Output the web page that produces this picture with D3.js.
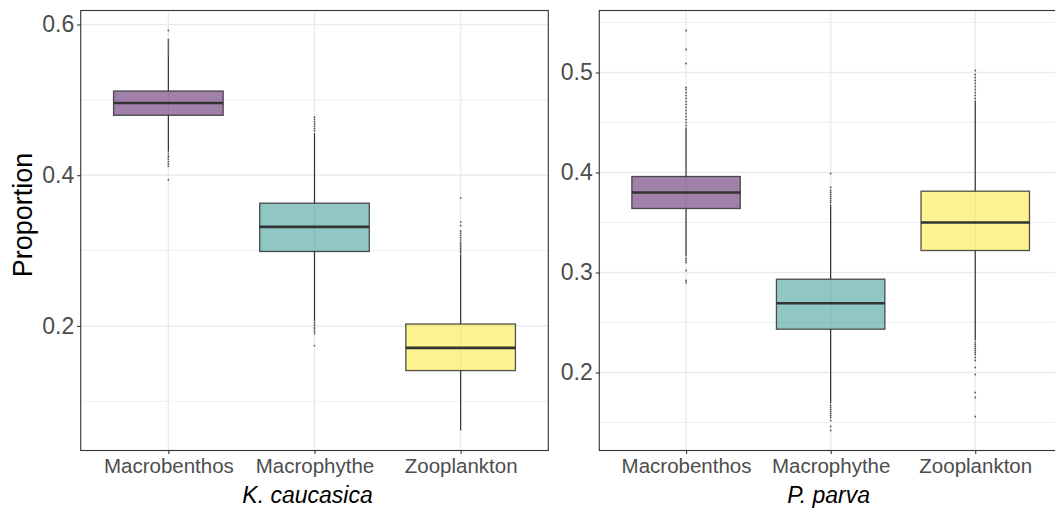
<!DOCTYPE html>
<html>
<head>
<meta charset="utf-8">
<script src="https://cdn.jsdelivr.net/npm/d3@7"></script>
<style>
  body { margin: 0; background: #fff; }
  svg { display: block; font-family: "Liberation Sans", Arial, Helvetica, sans-serif; }
</style>
</head>
<body>
<svg id="chart" width="1055" height="509"></svg>
<script>
// categories and box statistics
const categories = ["Macrobenthos", "Macrophythe", "Zooplankton"];
const fills = ["#440154", "#21908C", "#FDE725"];

// K. caucasica
const kcQ1 = [0.4795, 0.2988, 0.1408];
const kcMedian = [0.4958, 0.3315, 0.1709];
const kcQ3 = [0.5117, 0.3629, 0.2026];
const kcLow = [0.431, 0.206, 0.0613];
const kcHigh = [0.559, 0.456, 0.295];
const kcOutliers = [
  [0.560, 0.562, 0.564, 0.566, 0.568, 0.570, 0.572, 0.574, 0.576, 0.578, 0.580, 0.592,
   0.429, 0.426, 0.424, 0.421, 0.418, 0.415, 0.412, 0.394],
  [0.459, 0.462, 0.465, 0.468, 0.471, 0.474, 0.477,
   0.204, 0.201, 0.198, 0.196, 0.193, 0.190, 0.174],
  [0.297, 0.299, 0.301, 0.303, 0.305, 0.307, 0.309, 0.311, 0.314, 0.317, 0.320,
   0.323, 0.326, 0.333, 0.338, 0.370]
];

// P. parva
const ppQ1 = [0.364, 0.2433, 0.322];
const ppMedian = [0.380, 0.2693, 0.350];
const ppQ3 = [0.396, 0.2933, 0.3813];
const ppLow = [0.316, 0.169, 0.232];
const ppHigh = [0.445, 0.368, 0.472];
const ppOutliers = [
  [0.447, 0.450, 0.453, 0.456, 0.459, 0.462, 0.465, 0.468, 0.471, 0.474, 0.477,
   0.480, 0.483, 0.485, 0.509, 0.523, 0.542, 0.314, 0.312, 0.310, 0.302, 0.292, 0.290],
  [0.370, 0.372, 0.374, 0.376, 0.378, 0.380, 0.382, 0.385, 0.399,
   0.167, 0.165, 0.163, 0.161, 0.159, 0.157, 0.155, 0.152, 0.146, 0.142],
  [0.474, 0.477, 0.480, 0.483, 0.486, 0.489, 0.492, 0.495, 0.498, 0.502,
   0.230, 0.228, 0.226, 0.224, 0.222, 0.220, 0.218, 0.215, 0.212, 0.205, 0.198,
   0.180, 0.175, 0.156]
];

const kcTicks = [0.2, 0.4, 0.6];
const ppTicks = [0.2, 0.3, 0.4, 0.5];

const svg = d3.select("#chart");

function drawPanel(opt) {
  const { x0, x1, y0, y1, q1, med, q3, lo, hi, outl, ticks, title } = opt;

  // y domain like ggplot: data range plus 5% on each side
  const all = [].concat(lo, hi, ...outl);
  const dmin = d3.min(all), dmax = d3.max(all);
  const pad = (dmax - dmin) * 0.05;
  const y = d3.scaleLinear().domain([dmin - pad, dmax + pad]).range([y1, y0]);
  const x = d3.scaleLinear().domain([0.4, 3.6]).range([x0, x1]);
  const bw = x(0.75) - x(0);

  const g = svg.append("g");

  // clip to panel (right panel is cut at the window edge)
  const clipId = "clip" + Math.round(x0);
  svg.append("clipPath").attr("id", clipId)
    .append("rect").attr("x", x0).attr("y", y0).attr("width", x1 - x0).attr("height", y1 - y0);
  const p = g.append("g").attr("clip-path", `url(#${clipId})`);

  // minor grid, half way between major ticks
  const step = ticks[1] - ticks[0];
  const minorVals = [];
  for (let v = ticks[0] - step / 2; v < y.domain()[1]; v += step) {
    if (v > y.domain()[0]) minorVals.push(v);
  }
  p.selectAll(".minor").data(minorVals).join("line")
    .attr("x1", x0).attr("x2", x1)
    .attr("y1", d => y(d)).attr("y2", d => y(d))
    .attr("stroke", "#ebebeb").attr("stroke-width", 0.8);

  // major grid
  p.selectAll(".major").data(ticks).join("line")
    .attr("x1", x0).attr("x2", x1)
    .attr("y1", d => y(d)).attr("y2", d => y(d))
    .attr("stroke", "#ebebeb").attr("stroke-width", 1.4);
  p.selectAll(".vgrid").data(categories).join("line")
    .attr("x1", (d, i) => x(i + 1)).attr("x2", (d, i) => x(i + 1))
    .attr("y1", y0).attr("y2", y1)
    .attr("stroke", "#ebebeb").attr("stroke-width", 1.4);

  categories.forEach((c, i) => {
    const cx = x(i + 1);
    // whiskers
    p.append("line").attr("x1", cx).attr("x2", cx)
      .attr("y1", y(hi[i])).attr("y2", y(q3[i]))
      .attr("stroke", "#333").attr("stroke-width", 1.2);
    p.append("line").attr("x1", cx).attr("x2", cx)
      .attr("y1", y(q1[i])).attr("y2", y(lo[i]))
      .attr("stroke", "#333").attr("stroke-width", 1.2);

    // outliers
    p.selectAll(null).data(outl[i]).join("circle")
      .attr("cx", cx).attr("cy", d => y(d)).attr("r", 0.9)
      .attr("fill", "#333").attr("fill-opacity", 0.8);

    // box
    p.append("rect")
      .attr("x", cx - bw / 2).attr("width", bw)
      .attr("y", y(q3[i])).attr("height", y(q1[i]) - y(q3[i]))
      .attr("fill", fills[i]).attr("fill-opacity", 0.5)
      .attr("stroke", "#333").attr("stroke-opacity", 0.85).attr("stroke-width", 1.3);
    p.append("line")
      .attr("x1", cx - bw / 2).attr("x2", cx + bw / 2)
      .attr("y1", y(med[i])).attr("y2", y(med[i]))
      .attr("stroke", "#333").attr("stroke-width", 2.6);
  });

  // panel border
  g.append("rect").attr("x", x0).attr("y", y0)
    .attr("width", x1 - x0).attr("height", y1 - y0)
    .attr("fill", "none").attr("stroke", "#333").attr("stroke-width", 1.1);

  // y axis
  const ya = g.append("g").attr("transform", `translate(${x0},0)`)
    .call(d3.axisLeft(y).tickValues(ticks).tickSize(3.5).tickPadding(3).tickFormat(d3.format(".1f")));
  ya.select(".domain").remove();
  ya.selectAll(".tick line").attr("stroke", "#333").attr("stroke-width", 1.1);
  ya.selectAll(".tick text").attr("fill", "#4d4d4d").style("font-size", "23px")
    .style("font-family", "'Liberation Sans', Arial, sans-serif");

  // x axis
  const xa = g.append("g").attr("transform", `translate(0,${y1})`)
    .call(d3.axisBottom(x).tickValues([1, 2, 3]).tickSize(3.5).tickPadding(4)
      .tickFormat(d => categories[d - 1]));
  xa.select(".domain").remove();
  xa.selectAll(".tick line").attr("stroke", "#333").attr("stroke-width", 1.1);
  xa.selectAll(".tick text").attr("fill", "#4d4d4d").style("font-size", "20.5px")
    .style("font-family", "'Liberation Sans', Arial, sans-serif");

  // x title
  g.append("text")
    .attr("x", (x0 + x1) / 2 + opt.titleShift).attr("y", 503)
    .attr("text-anchor", "middle")
    .style("font-size", "23px").style("font-style", "italic")
    .attr("fill", "#000")
    .text(title);
}

drawPanel({
  x0: 80.7, x1: 548.3, y0: 10.5, y1: 450.5,
  q1: kcQ1, med: kcMedian, q3: kcQ3, lo: kcLow, hi: kcHigh, outl: kcOutliers,
  ticks: kcTicks, title: "K. caucasica", titleShift: -7
});

drawPanel({
  x0: 599.3, x1: 1062, y0: 10.5, y1: 450.5,
  q1: ppQ1, med: ppMedian, q3: ppQ3, lo: ppLow, hi: ppHigh, outl: ppOutliers,
  ticks: ppTicks, title: "P. parva", titleShift: -2
});

// y axis title
svg.append("text")
  .attr("transform", "translate(32,215) rotate(-90)")
  .attr("text-anchor", "middle")
  .style("font-size", "27px")
  .attr("fill", "#000")
  .text("Proportion");
</script>
</body>
</html>
